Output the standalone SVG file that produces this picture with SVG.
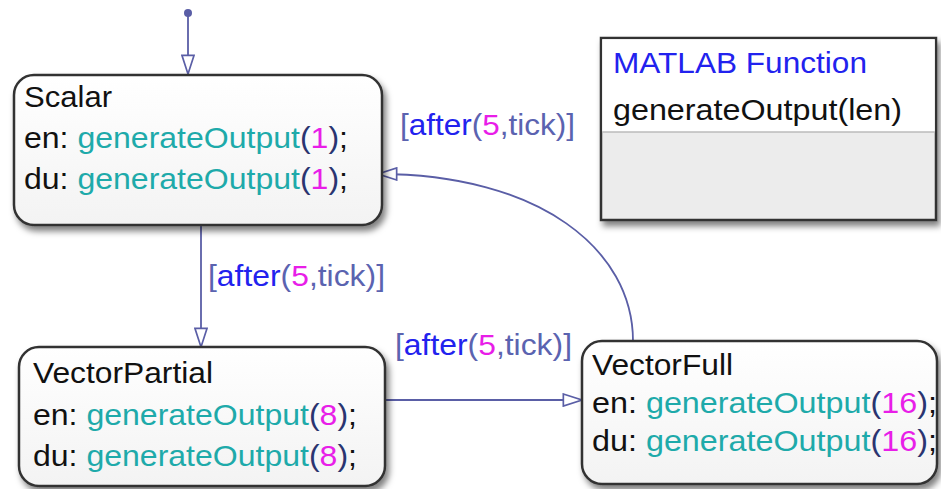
<svg xmlns="http://www.w3.org/2000/svg" width="941" height="489" viewBox="0 0 941 489">
  <style>
    .t { font-family: "Liberation Sans", Arial, sans-serif; font-size: 29px; fill: #111; }
    .lbl { font-family: "Liberation Sans", Arial, sans-serif; font-size: 29px; fill: #5b63b0; }
    .fn { fill: #1eaaaa; }
    .num { fill: #e81ee8; }
    .kw { fill: #2222ee; }
    .par { fill: #2a3470; }
    .state { fill: url(#stateGrad); stroke: #333; stroke-width: 2.5; filter: url(#shadow); }
    .conn { fill: none; stroke: #5a5ea6; stroke-width: 1.8; }
  </style>
  <defs>
    <linearGradient id="stateGrad" x1="0" y1="0" x2="0" y2="1">
      <stop offset="0" stop-color="#ffffff"/>
      <stop offset="1" stop-color="#f3f3f3"/>
    </linearGradient>
    <filter id="shadow" x="-10%" y="-10%" width="125%" height="130%">
      <feDropShadow dx="3" dy="5" stdDeviation="3" flood-color="#000" flood-opacity="0.5"/>
    </filter>
    <marker id="arr" markerUnits="userSpaceOnUse" markerWidth="22" markerHeight="14" refX="20" refY="6.5" orient="auto" viewBox="-1 -1 22 15">
      <path d="M0,0 L20,6.5 L0,13 z" fill="#ffffff" stroke="#5a5ea6" stroke-width="1.8"/>
    </marker>
  </defs>

  <g id="connectors">
    <circle cx="188" cy="13" r="4" fill="#5a5ea6"/>
    <path class="conn" d="M188,13 L188,74" marker-end="url(#arr)"/>
    <path class="conn" d="M201,225 L201,347" marker-end="url(#arr)"/>
    <path class="conn" d="M385,400 L582,400" marker-end="url(#arr)"/>
    <path class="conn" d="M633,341 C633,250 540,174 378,174" marker-end="url(#arr)"/>
    <text class="lbl" x="400" y="135" textLength="175" lengthAdjust="spacingAndGlyphs">[<tspan class="kw">after</tspan>(<tspan class="num">5</tspan>,tick)]</text>
    <text class="lbl" x="208" y="286" textLength="177" lengthAdjust="spacingAndGlyphs">[<tspan class="kw">after</tspan>(<tspan class="num">5</tspan>,tick)]</text>
    <text class="lbl" x="395" y="355" textLength="177" lengthAdjust="spacingAndGlyphs">[<tspan class="kw">after</tspan>(<tspan class="num">5</tspan>,tick)]</text>
  </g>

  <g id="Scalar">
    <rect class="state" x="14" y="75" width="368" height="150" rx="20" ry="20"/>
    <text class="t" x="24" y="107" textLength="88" lengthAdjust="spacingAndGlyphs">Scalar</text>
    <text class="t" x="24" y="148" textLength="324" lengthAdjust="spacingAndGlyphs">en: <tspan class="fn">generateOutput</tspan><tspan class="par">(</tspan><tspan class="num">1</tspan><tspan class="par">)</tspan>;</text>
    <text class="t" x="24" y="189" textLength="324" lengthAdjust="spacingAndGlyphs">du: <tspan class="fn">generateOutput</tspan><tspan class="par">(</tspan><tspan class="num">1</tspan><tspan class="par">)</tspan>;</text>
  </g>

  <g id="VectorPartial">
    <rect class="state" x="19" y="347" width="366" height="139" rx="20" ry="20"/>
    <text class="t" x="33" y="383" textLength="180" lengthAdjust="spacingAndGlyphs">VectorPartial</text>
    <text class="t" x="33" y="425" textLength="324" lengthAdjust="spacingAndGlyphs">en: <tspan class="fn">generateOutput</tspan><tspan class="par">(</tspan><tspan class="num">8</tspan><tspan class="par">)</tspan>;</text>
    <text class="t" x="33" y="466" textLength="324" lengthAdjust="spacingAndGlyphs">du: <tspan class="fn">generateOutput</tspan><tspan class="par">(</tspan><tspan class="num">8</tspan><tspan class="par">)</tspan>;</text>
  </g>

  <g id="VectorFull">
    <rect class="state" x="582" y="341" width="355" height="143" rx="20" ry="20"/>
    <text class="t" x="592" y="375" textLength="141" lengthAdjust="spacingAndGlyphs">VectorFull</text>
    <text class="t" x="592" y="413" textLength="345" lengthAdjust="spacingAndGlyphs">en: <tspan class="fn">generateOutput</tspan><tspan class="par">(</tspan><tspan class="num">16</tspan><tspan class="par">)</tspan>;</text>
    <text class="t" x="592" y="451" textLength="345" lengthAdjust="spacingAndGlyphs">du: <tspan class="fn">generateOutput</tspan><tspan class="par">(</tspan><tspan class="num">16</tspan><tspan class="par">)</tspan>;</text>
  </g>

  <g id="MatlabFunction">
    <rect x="601" y="38" width="335" height="182" fill="#ececec" stroke="#333" stroke-width="2.5" filter="url(#shadow)"/>
    <rect x="602.25" y="39.25" width="332.5" height="92.75" fill="#ffffff"/>
    <line x1="602" y1="132" x2="935" y2="132" stroke="#bbbbbb" stroke-width="1.5"/>
    <text class="t kw" x="613" y="73" textLength="254" lengthAdjust="spacingAndGlyphs">MATLAB Function</text>
    <text class="t" x="613" y="120" textLength="289" lengthAdjust="spacingAndGlyphs">generateOutput(len)</text>
  </g>
</svg>
